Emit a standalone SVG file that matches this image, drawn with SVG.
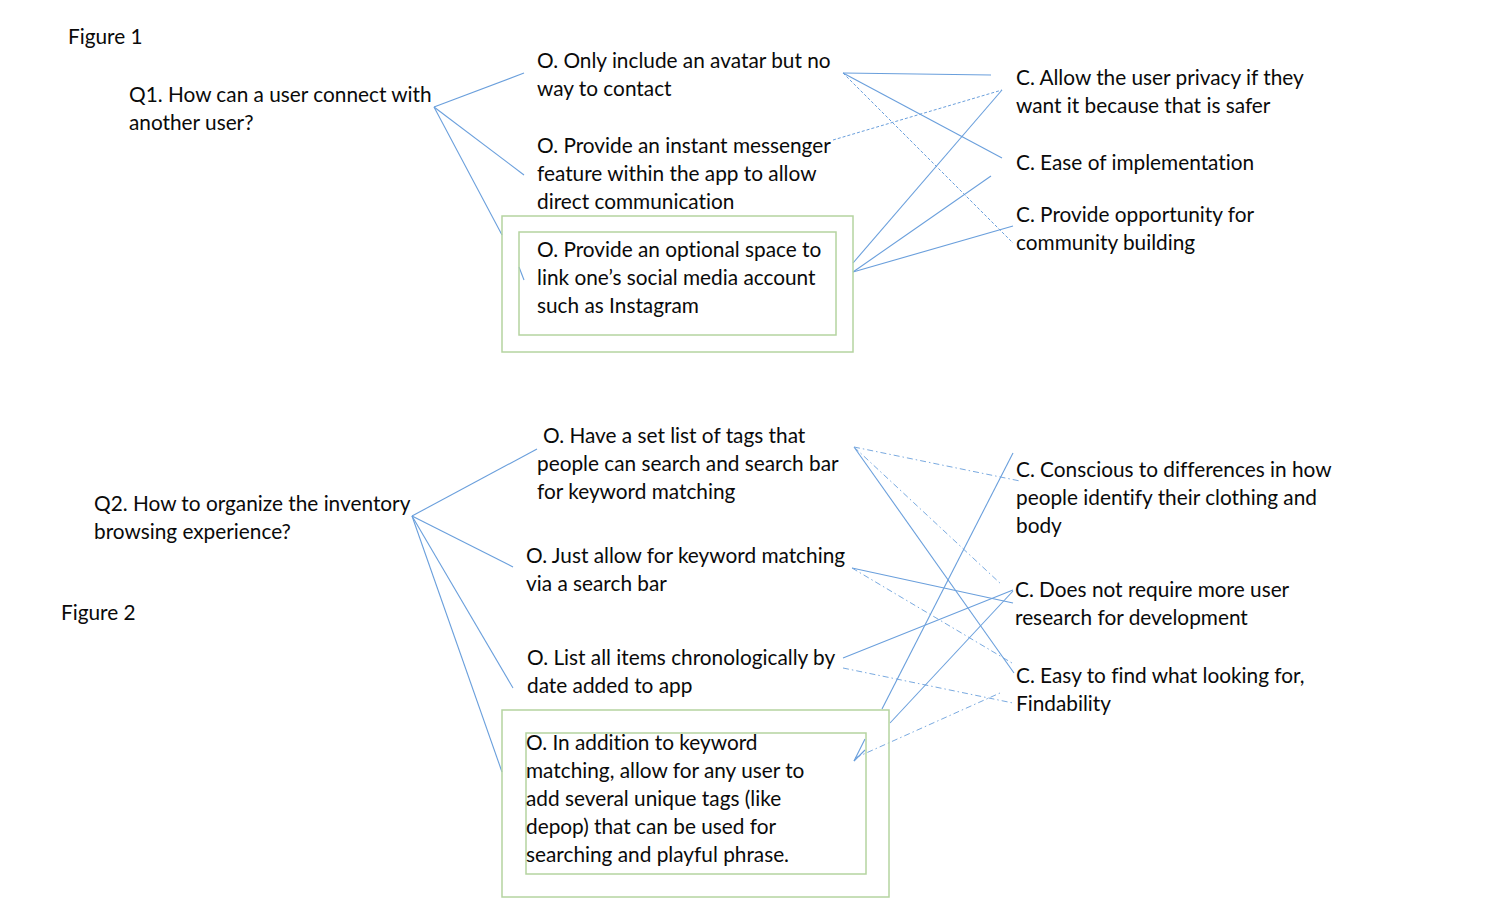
<svg xmlns="http://www.w3.org/2000/svg" width="1500" height="900" viewBox="0 0 1500 900">
<style>
text{font-family:Lato,"Open Sans","Liberation Sans",sans-serif;font-size:20.8px;fill:#0a0a0a;font-variant-ligatures:none}
.c{stroke:#6a9fdc;stroke-width:1.1;fill:none}
.d{stroke:#6a9fdc;stroke-width:1;fill:none;stroke-dasharray:3 2}
.dd{stroke:#7aaae0;stroke-width:1;fill:none;stroke-dasharray:6 3 1.5 3}
.box{fill:none;stroke:#b5d4a0;stroke-width:1.5}
</style>
<rect width="1500" height="900" fill="#fff"/>
<g id="connectors">
<line class="c" x1="434" y1="107" x2="524" y2="73"/>
<line class="c" x1="434" y1="107" x2="524" y2="175"/>
<line class="c" x1="434" y1="107" x2="502" y2="235"/>
<line class="c" x1="519" y1="267" x2="524" y2="280"/>
<line class="c" x1="843" y1="73" x2="991" y2="75"/>
<line class="c" x1="843" y1="73" x2="1002" y2="158"/>
<line class="d" x1="843" y1="73" x2="1013" y2="243"/>
<line class="d" x1="833" y1="140" x2="1002" y2="90"/>
<line class="c" x1="853" y1="263" x2="1002" y2="90"/>
<line class="c" x1="853" y1="272" x2="991" y2="176"/>
<line class="c" x1="853" y1="272" x2="1013" y2="226"/>
<line class="c" x1="412" y1="516" x2="537" y2="449"/>
<line class="c" x1="412" y1="516" x2="513" y2="567"/>
<line class="c" x1="412" y1="516" x2="513" y2="688"/>
<line class="c" x1="412" y1="516" x2="502" y2="772"/>
<line class="c" x1="854" y1="447" x2="1014" y2="673"/>
<line class="dd" x1="854" y1="447" x2="1020" y2="481"/>
<line class="dd" x1="854" y1="447" x2="1002" y2="585"/>
<line class="c" x1="852" y1="568" x2="1013" y2="603"/>
<line class="dd" x1="852" y1="568" x2="1012" y2="663"/>
<line class="c" x1="843" y1="658" x2="1013" y2="590"/>
<line class="dd" x1="843" y1="668" x2="1013" y2="703"/>
<line class="c" x1="882" y1="709" x2="1013" y2="453"/>
<line class="c" x1="890" y1="723" x2="1013" y2="591"/>
<line class="dd" x1="855" y1="758" x2="1000" y2="693"/>
<line class="c" x1="865" y1="739" x2="854" y2="761"/>
<line class="c" x1="865" y1="750" x2="854" y2="761"/>
</g>
<g id="fig1-label"><text x="68" y="44">Figure 1</text></g>
<g id="q1"><text x="129" y="102">Q1. How can a user connect with</text><text x="129" y="130">another user?</text></g>
<g id="o1"><text x="537" y="68">O. Only include an avatar but no</text><text x="537" y="96">way to contact</text></g>
<g id="o2"><text x="537" y="153">O. Provide an instant messenger</text><text x="537" y="181">feature within the app to allow</text><text x="537" y="209">direct communication</text></g>
<g id="o3">
<rect class="box" x="502" y="216" width="351" height="136"/>
<rect class="box" x="519" y="232" width="317" height="103"/>
<text x="537" y="257">O. Provide an optional space to</text><text x="537" y="285">link one’s social media account</text><text x="537" y="313">such as Instagram</text></g>
<g id="c1"><text x="1016" y="85">C. Allow the user privacy if they</text><text x="1016" y="113">want it because that is safer</text></g>
<g id="c2"><text x="1016" y="170">C. Ease of implementation</text></g>
<g id="c3"><text x="1016" y="222">C. Provide opportunity for</text><text x="1016" y="250">community building</text></g>
<g id="q2"><text x="94" y="511">Q2. How to organize the inventory</text><text x="94" y="539">browsing experience?</text></g>
<g id="fig2-label"><text x="61" y="620">Figure 2</text></g>
<g id="o4"><text x="543" y="443">O. Have a set list of tags that</text><text x="537" y="471">people can search and search bar</text><text x="537" y="499">for keyword matching</text></g>
<g id="o5"><text x="526" y="563">O. Just allow for keyword matching</text><text x="526" y="591">via a search bar</text></g>
<g id="o6"><text x="527" y="665">O. List all items chronologically by</text><text x="527" y="693">date added to app</text></g>
<g id="o7">
<rect class="box" x="502" y="710" width="387" height="187"/>
<rect class="box" x="526" y="733" width="340" height="141"/>
<text x="526" y="750">O. In addition to keyword</text><text x="526" y="778">matching, allow for any user to</text><text x="526" y="806">add several unique tags (like</text><text x="526" y="834">depop) that can be used for</text><text x="526" y="862">searching and playful phrase.</text></g>
<g id="c4"><text x="1016" y="477">C. Conscious to differences in how</text><text x="1016" y="505">people identify their clothing and</text><text x="1016" y="533">body</text></g>
<g id="c5"><text x="1015" y="597">C. Does not require more user</text><text x="1015" y="625">research for development</text></g>
<g id="c6"><text x="1016" y="683">C. Easy to find what looking for,</text><text x="1016" y="711">Findability</text></g>
</svg>
